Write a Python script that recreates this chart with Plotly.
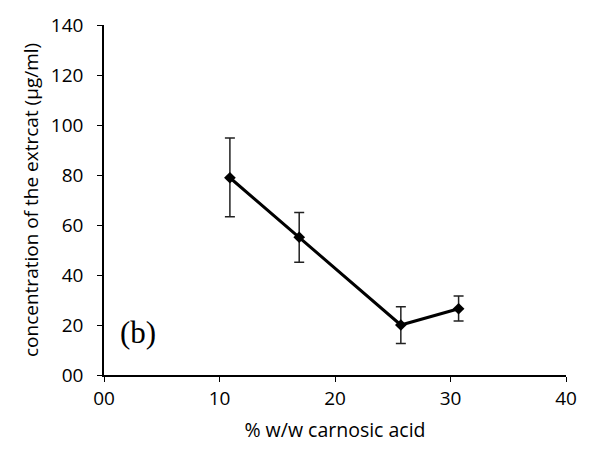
import plotly.graph_objects as go

# data
carnosic = [10.9, 16.9, 25.7, 30.7]
conc = [78.9, 55.1, 20.0, 26.5]
err_plus = [15.9, 9.9, 7.3, 5.1]
err_minus = [15.6, 10.0, 7.4, 4.9]

x_ticks = [0, 10, 20, 30, 40]
x_labels = ["00", "10", "20", "30", "40"]
y_ticks = [0, 20, 40, 60, 80, 100, 120, 140]
y_labels = ["00", "20", "40", "60", "80", "100", "120", "140"]

fig = go.Figure()
fig.add_trace(go.Scatter(
    x=carnosic, y=conc,
    mode="lines+markers",
    line=dict(color="black", width=3),
    marker=dict(symbol="diamond", size=9, color="black"),
    error_y=dict(type="data", symmetric=False, array=err_plus, arrayminus=err_minus,
                 color="#222222", thickness=1.5, width=5),
    showlegend=False,
))

fig.add_annotation(
    text="(b)", x=0.03, y=0.065, xref="paper", yref="paper",
    xanchor="left", yanchor="bottom", showarrow=False,
    font=dict(family="Liberation Serif", size=31, color="black"),
)

# y-axis title placed by hand (plotly's standoff pushes it too far out)
fig.add_annotation(
    text="concentration of the extrcat (µg/ml)", textangle=-90,
    x=-0.158, y=0.5, xref="paper", yref="paper",
    xanchor="center", yanchor="middle", showarrow=False,
    font=dict(family="Open Sans", size=19, color="black"),
)

axis_common = dict(
    showgrid=False, zeroline=False,
    showline=True, linecolor="black", linewidth=1.5,
    ticks="outside", ticklen=5, tickwidth=1.2, tickcolor="black",
    tickfont=dict(family="Open Sans", size=19, color="black"),
)

fig.update_xaxes(
    range=[0, 40], tickvals=x_ticks, ticktext=x_labels,
    title=dict(text="% w/w carnosic acid", font=dict(family="Open Sans", size=19.5, color="black"), standoff=14),
    **axis_common,
)
fig.update_yaxes(
    range=[0, 140], tickvals=y_ticks, ticktext=y_labels, ticklabelstandoff=10,
    **axis_common,
)

fig.update_layout(
    width=589, height=450,
    margin=dict(l=104, r=14, t=20, b=71),
    plot_bgcolor="white", paper_bgcolor="white",
)

# the page body has a default 8px margin; drop it so the figure fills the window
fig.write_html("out.html", config={"displayModeBar": False},
               post_script="document.body.style.margin='0px';")
